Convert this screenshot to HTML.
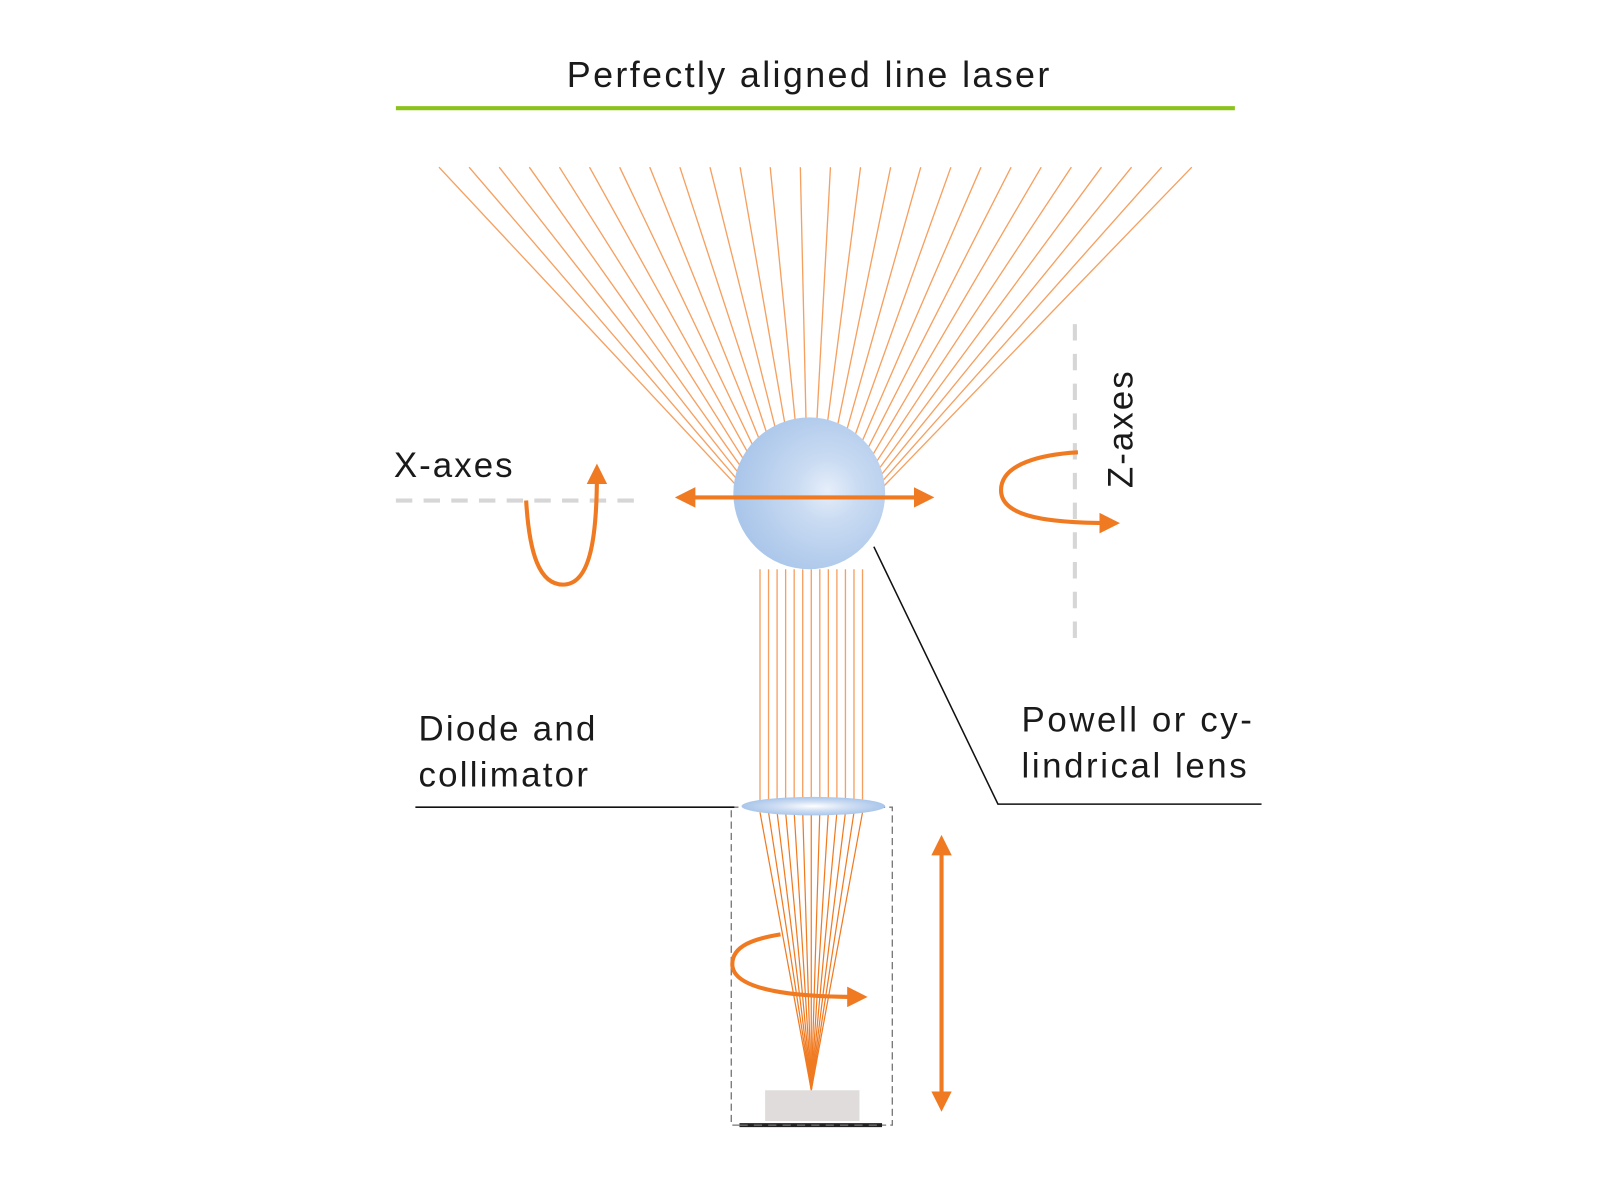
<!DOCTYPE html>
<html><head><meta charset="utf-8"><style>
html,body{margin:0;padding:0;background:#fff;width:1600px;height:1200px;overflow:hidden}
svg{display:block}
text{font-family:"Liberation Sans","DejaVu Sans",sans-serif;fill:#1a1a1a}
</style></head><body>
<svg width="1600" height="1200" viewBox="0 0 1560 1170" xmlns="http://www.w3.org/2000/svg">
<defs>
<radialGradient id="sph" cx="0.62" cy="0.48" r="0.6">
<stop offset="0" stop-color="#e6eefa"/>
<stop offset="0.35" stop-color="#c9dbf2"/>
<stop offset="1" stop-color="#aac6ea"/>
</radialGradient>
<radialGradient id="lens" cx="0.5" cy="0.5" r="0.5">
<stop offset="0" stop-color="#ffffff"/>
<stop offset="0.5" stop-color="#cfdef3"/>
<stop offset="1" stop-color="#aac6ea"/>
</radialGradient>
<marker id="ah" viewBox="0 0 10 10" refX="5" refY="5" markerWidth="5" markerHeight="5" orient="auto-start-reverse">
<path d="M0,0 L10,5 L0,10 z" fill="#f07a21"/>
</marker>
</defs>
<g transform="translate(-4,0)">
<text x="793" y="85" font-size="35" text-anchor="middle" letter-spacing="2.3">Perfectly aligned line laser</text>
<line x1="390" y1="105.5" x2="1208" y2="105.5" stroke="#8bc21c" stroke-width="4"/>

<g stroke="#f5a060" stroke-width="1.3" id="fan"></g>
<g stroke="#f5a060" stroke-width="1.3" id="vert"></g>
<g stroke="#f07a21" stroke-width="1.2" id="cone"></g>

<rect x="717" y="787" width="157" height="310" fill="none" stroke="#777" stroke-width="1.3" stroke-dasharray="7,4"/>
<circle cx="793" cy="481" r="74" fill="url(#sph)"/>
<ellipse cx="797" cy="786" rx="70" ry="9" fill="url(#lens)"/>

<line x1="672" y1="485" x2="905" y2="485" stroke="#f07a21" stroke-width="4" marker-start="url(#ah)" marker-end="url(#ah)"/>

<text x="388" y="465" font-size="34" letter-spacing="2">X-axes</text>
<line x1="390" y1="488" x2="630" y2="488" stroke="#d6d6d6" stroke-width="4" stroke-dasharray="16,11"/>
<path d="M517,488 C520,540 530,570 553,570 C578,570 586,530 586,462" fill="none" stroke="#f07a21" stroke-width="4" marker-end="url(#ah)"/>

<line x1="1052" y1="316" x2="1052" y2="634" stroke="#d6d6d6" stroke-width="4" stroke-dasharray="16,13"/>
<text transform="translate(1108,418) rotate(-90)" font-size="34" text-anchor="middle" letter-spacing="2">Z-axes</text>
<path d="M1055,441 C1020,443 980,452 980,478 C980,505 1030,510 1086,510" fill="none" stroke="#f07a21" stroke-width="4" marker-end="url(#ah)"/>

<polyline points="856,533 977,784 1234,784" fill="none" stroke="#111" stroke-width="1.5"/>
<text x="1000" y="713" font-size="34" letter-spacing="2.5">Powell or cy-</text>
<text x="1000" y="758" font-size="34" letter-spacing="2.5">lindrical lens</text>

<text x="412" y="722" font-size="34" letter-spacing="2.2">Diode and</text>
<text x="412" y="767" font-size="34" letter-spacing="2.2">collimator</text>
<line x1="409" y1="787" x2="720" y2="787" stroke="#111" stroke-width="1.5"/>

<rect x="750" y="1063" width="92" height="30" fill="#e0dcdc"/>
<line x1="725" y1="1097" x2="864" y2="1097" stroke="#222" stroke-width="4"/>
<line x1="725" y1="1097" x2="864" y2="1097" stroke="#888" stroke-width="1" stroke-dasharray="8,6"/>

<path d="M765,911 C740,915 718,922 718,940 C718,966 780,972 840,972" fill="none" stroke="#f07a21" stroke-width="4" marker-end="url(#ah)"/>
<line x1="922" y1="824" x2="922" y2="1074" stroke="#f07a21" stroke-width="4" marker-start="url(#ah)" marker-end="url(#ah)"/>
</g>
<script>
var ns="http://www.w3.org/2000/svg";
function L(g,x1,y1,x2,y2){var l=document.createElementNS(ns,"line");l.setAttribute("x1",x1);l.setAttribute("y1",y1);l.setAttribute("x2",x2);l.setAttribute("y2",y2);document.getElementById(g).appendChild(l);}
for(var i=0;i<26;i++){var x=432+i*29.36;L("fan",x,163,793+(x-793)*0.05,530);}
for(var i=0;i<13;i++){var x=745+i*8.33;L("vert",x,555,x,786);L("cone",x,792,795,1063);}
</script>
</svg>
</body></html>
